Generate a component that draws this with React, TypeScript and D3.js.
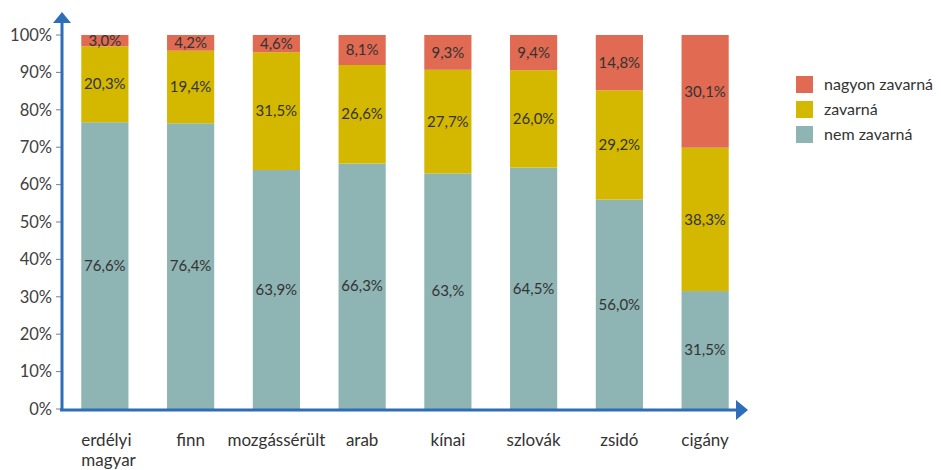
import React, { useEffect, useRef } from 'react';
import * as d3 from 'd3';

const categories = ['erdélyi magyar', 'finn', 'mozgássérült', 'arab', 'kínai', 'szlovák', 'zsidó', 'cigány'];
const nemZavarna = [76.6, 76.4, 63.9, 66.3, 63.0, 64.5, 56.0, 31.5];
const zavarna = [20.3, 19.4, 31.5, 26.6, 27.7, 26.0, 29.2, 38.3];
const nagyonZavarna = [3.0, 4.2, 4.6, 8.1, 9.3, 9.4, 14.8, 30.1];
// labels as printed on the original (kínai shows "63,%")
const nemLabels = ['76,6%', '76,4%', '63,9%', '66,3%', '63,%', '64,5%', '56,0%', '31,5%'];
const seriesNames = ['nem zavarná', 'zavarná', 'nagyon zavarná'];
const seriesColors = ['#8EB4B4', '#D4B800', '#E06A52'];
const yTicks = [0, 0.1, 0.2, 0.3, 0.4, 0.5, 0.6, 0.7, 0.8, 0.9, 1];

const fmt = (v: number) => v.toFixed(1).replace('.', ',') + '%';

const App = () => {
  const svgRef = useRef<SVGSVGElement>(null);

  useEffect(() => {
    const svg = d3.select(svgRef.current);
    svg.selectAll('*').remove(); // Clear previous drawings

    const width = 941;
    const height = 470;
    const font = 'Lato, "Open Sans", sans-serif';
    const axisColor = '#2E6DB8';

    const rows = categories.map((c, i) => ({
      cat: c,
      'nem zavarná': nemZavarna[i],
      'zavarná': zavarna[i],
      'nagyon zavarná': nagyonZavarna[i],
      labels: [nemLabels[i], fmt(zavarna[i]), fmt(nagyonZavarna[i])],
    }));

    const stacked = d3.stack<any>()
      .keys(seriesNames)
      .offset(d3.stackOffsetExpand)(rows);

    const x = d3.scaleBand()
      .domain(categories)
      .range([62, 748])
      .paddingInner(0.45)
      .paddingOuter(0.225);

    const y = d3.scaleLinear()
      .domain([0, 1])
      .range([409, 35]);

    svg.attr('width', width).attr('height', height);

    // bars
    stacked.forEach((layer, si) => {
      const g = svg.append('g');
      g.selectAll('rect')
        .data(layer)
        .enter().append('rect')
          .attr('x', (d: any) => x(d.data.cat)!)
          .attr('y', (d: any) => y(d[1]))
          .attr('width', x.bandwidth())
          .attr('height', (d: any) => y(d[0]) - y(d[1]))
          .attr('fill', seriesColors[si]);
      g.selectAll('text')
        .data(layer)
        .enter().append('text')
          .attr('x', (d: any) => x(d.data.cat)! + x.bandwidth() / 2)
          .attr('y', (d: any) => (y(d[0]) + y(d[1])) / 2)
          .attr('dy', '0.35em')
          .attr('text-anchor', 'middle')
          .attr('font-family', font)
          .attr('font-size', 15)
          .attr('fill', '#333')
          .text((d: any) => d.data.labels[si]);
    });

    // y ticks
    const yg = svg.append('g');
    yTicks.forEach(t => {
      yg.append('line')
        .attr('x1', 56).attr('x2', 61)
        .attr('y1', y(t)).attr('y2', y(t))
        .attr('stroke', '#7f7f7f').attr('stroke-width', 1);
      yg.append('text')
        .attr('x', 52)
        .attr('y', y(t))
        .attr('dy', '0.35em')
        .attr('text-anchor', 'end')
        .attr('font-family', font)
        .attr('font-size', 16.5)
        .attr('fill', '#404040')
        .text(d3.format('.0%')(t));
    });

    // axes with arrows
    svg.append('line')
      .attr('x1', 62).attr('x2', 62)
      .attr('y1', 411).attr('y2', 22)
      .attr('stroke', axisColor).attr('stroke-width', 3);
    svg.append('path')
      .attr('d', 'M62,12 L53,23 L71,23 Z')
      .attr('fill', axisColor);
    svg.append('line')
      .attr('x1', 60).attr('x2', 737)
      .attr('y1', 410).attr('y2', 410)
      .attr('stroke', axisColor).attr('stroke-width', 3);
    svg.append('path')
      .attr('d', 'M748,410 L736,400 L736,420 Z')
      .attr('fill', axisColor);

    // x labels
    categories.forEach(c => {
      const first = c === 'erdélyi magyar';
      const words = first ? ['erdélyi', 'magyar'] : [c];
      const xPos = x(c)! + (first ? 0 : x.bandwidth() / 2);
      const t = svg.append('text')
        .attr('y', 446)
        .attr('text-anchor', first ? 'start' : 'middle')
        .attr('font-family', font)
        .attr('font-size', 17)
        .attr('fill', '#333');
      words.forEach((w, i) => {
        t.append('tspan')
          .attr('x', xPos)
          .attr('dy', i === 0 ? 0 : 20)
          .text(w);
      });
    });

    // legend
    const legendOrder = [2, 1, 0];
    legendOrder.forEach((si, i) => {
      svg.append('rect')
        .attr('x', 796).attr('y', 76 + i * 25)
        .attr('width', 17).attr('height', 17)
        .attr('fill', seriesColors[si]);
      svg.append('text')
        .attr('x', 824).attr('y', 76 + i * 25 + 8.5)
        .attr('dy', '0.35em')
        .attr('font-family', font)
        .attr('font-size', 16)
        .attr('fill', '#333')
        .text(seriesNames[si]);
    });
  }, []);

  return (
    <svg
      ref={svgRef}
      style={{ position: 'absolute', left: 0, top: 0 }}
    ></svg>
  );
};

export default App;
